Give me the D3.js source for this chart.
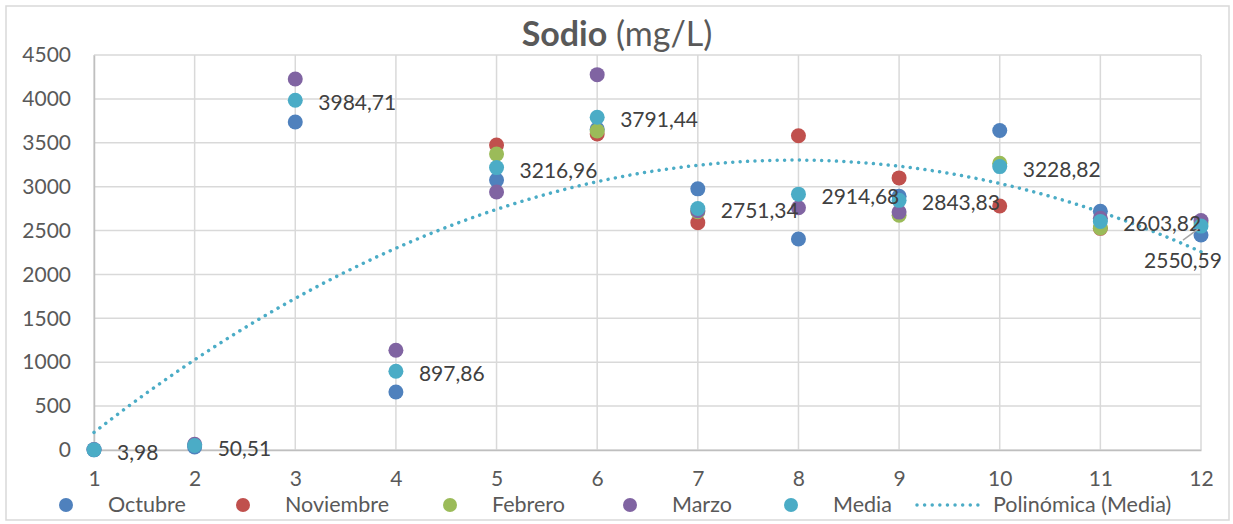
<!DOCTYPE html>
<html>
<head>
<script src="https://d3js.org/d3.v7.min.js"></script>
<style>
  body { margin: 0; background: #fff; }
  text { font-family: Lato, "Open Sans", sans-serif; fill: #595959; }
</style>
</head>
<body>
<div id="chart"></div>
<script>
// months on the x axis
const months = [1, 2, 3, 4, 5, 6, 7, 8, 9, 10, 11, 12];

// sodium values per campaign (mg/L), null = no sample
const octubre   = [2, 35, 3736, 660, 3075, 3655, 2975, 2404, 2890, 3640, 2720, 2450];
const noviembre = [null, null, null, null, 3474, 3600, 2590, 3580, 3100, 2780, 2525, null];
const febrero   = [null, null, null, null, 3371, 3635, 2715, null, 2675, 3266, 2530, 2587];
const marzo     = [6, 66, 4226, 1136, 2939, 4276, 2725, 2760, 2710, null, 2640, 2615];
const media     = [3.98, 50.51, 3984.71, 897.86, 3216.96, 3791.44, 2751.34, 2914.68, 2843.83, 3228.82, 2603.82, 2550.59];

const yTicks = [0, 500, 1000, 1500, 2000, 2500, 3000, 3500, 4000, 4500];

const series = [
  { name: "Octubre", values: octubre, color: "#4f81bd" },
  { name: "Noviembre", values: noviembre, color: "#c0504d" },
  { name: "Febrero", values: febrero, color: "#9bbb59" },
  { name: "Marzo", values: marzo, color: "#8064a2" },
  { name: "Media", values: media, color: "#4bacc6" }
];

const width = 1233, height = 524;
const margin = { top: 55, right: 32, bottom: 74, left: 94 };

const svg = d3.select("#chart").append("svg")
  .attr("width", width)
  .attr("height", height);

// chart border
svg.append("rect")
  .attr("x", 6).attr("y", 6)
  .attr("width", 1223).attr("height", 514)
  .attr("fill", "none")
  .attr("stroke", "#d9d9d9")
  .attr("stroke-width", 1.5);

const x = d3.scaleLinear().domain([1, 12]).range([margin.left, width - margin.right]);
const y = d3.scaleLinear().domain([0, 4500]).range([height - margin.bottom, margin.top]);

// grid
svg.append("g").selectAll("line").data(yTicks).join("line")
  .attr("x1", x(1)).attr("x2", x(12))
  .attr("y1", d => y(d)).attr("y2", d => y(d))
  .attr("stroke", "#d9d9d9").attr("stroke-width", 1.5);
svg.append("g").selectAll("line").data(months).join("line")
  .attr("x1", d => x(d)).attr("x2", d => x(d))
  .attr("y1", y(0)).attr("y2", y(4500))
  .attr("stroke", "#d9d9d9").attr("stroke-width", 1.5);

// axes
const yAxis = svg.append("g")
  .attr("transform", `translate(${x(1)},0)`)
  .call(d3.axisLeft(y).tickValues(yTicks).tickSize(0).tickPadding(23).tickFormat(d3.format("d")));
yAxis.select(".domain").attr("stroke", "#bfbfbf").attr("stroke-width", 1.5);
yAxis.selectAll("text").attr("font-size", 21).style("fill", "#595959");

const xAxis = svg.append("g")
  .attr("transform", `translate(0,${y(0)})`)
  .call(d3.axisBottom(x).tickValues(months).tickSize(0).tickPadding(21).tickFormat(d3.format("d")));
xAxis.select(".domain").attr("stroke", "#bfbfbf").attr("stroke-width", 1.5);
xAxis.selectAll("text").attr("font-size", 21).style("fill", "#595959");

// polynomial (order 2) trendline of Media, least squares
function polyFit(xs, ys) {
  let s = [0, 0, 0, 0, 0], t = [0, 0, 0];
  xs.forEach((xv, i) => {
    for (let k = 0; k < 5; k++) s[k] += Math.pow(xv, k);
    for (let k = 0; k < 3; k++) t[k] += ys[i] * Math.pow(xv, k);
  });
  const A = [[s[0], s[1], s[2], t[0]], [s[1], s[2], s[3], t[1]], [s[2], s[3], s[4], t[2]]];
  for (let i = 0; i < 3; i++) {
    for (let j = i + 1; j < 3; j++) {
      const f = A[j][i] / A[i][i];
      for (let k = i; k < 4; k++) A[j][k] -= f * A[i][k];
    }
  }
  const c = [0, 0, 0];
  for (let i = 2; i >= 0; i--) {
    let v = A[i][3];
    for (let k = i + 1; k < 3; k++) v -= A[i][k] * c[k];
    c[i] = v / A[i][i];
  }
  return c;
}
const coef = polyFit(months, media);
const trend = d3.range(1, 12.0001, 0.05).map(t => [t, coef[0] + coef[1] * t + coef[2] * t * t]);

svg.append("path")
  .datum(trend)
  .attr("fill", "none")
  .attr("stroke", "#4bacc6")
  .attr("stroke-width", 3.5)
  .attr("stroke-linecap", "round")
  .attr("stroke-dasharray", "0.01 7.4")
  .attr("d", d3.line().x(d => x(d[0])).y(d => y(d[1])));

// markers
series.forEach(s => {
  svg.append("g").selectAll("circle")
    .data(months.map((m, i) => [m, s.values[i]]).filter(d => d[1] != null))
    .join("circle")
    .attr("cx", d => x(d[0]))
    .attr("cy", d => y(d[1]))
    .attr("r", 7.5)
    .attr("fill", s.color);
});

// data labels for Media
const fmt = d3.formatLocale({ decimal: ",", thousands: "", grouping: [3], currency: ["", ""] }).format(".2f");
months.forEach((m, i) => {
  if (i === 11) {
    svg.append("line")
      .attr("x1", x(m) - 18).attr("y1", y(media[i]) + 14)
      .attr("x2", x(m) - 3).attr("y2", y(media[i]) + 3)
      .attr("stroke", "#a6a6a6").attr("stroke-width", 1.5);
    svg.append("text")
      .attr("x", x(m) - 18).attr("y", y(media[i]) + 42)
      .attr("text-anchor", "middle")
      .attr("font-size", 21)
      .style("fill", "#404040")
      .text(fmt(media[i]));
  } else {
    svg.append("text")
      .attr("x", x(m) + 23).attr("y", y(media[i]) + 10)
      .attr("font-size", 21)
      .style("fill", "#404040")
      .text(fmt(media[i]));
  }
});

// title
const title = svg.append("text")
  .attr("x", 617).attr("y", 46)
  .attr("text-anchor", "middle")
  .attr("font-size", 34);
title.append("tspan").attr("font-weight", "bold").text("Sodio");
title.append("tspan").text(" (mg/L)");

// legend
const legendX = [66, 243, 450, 630, 791];
series.forEach((s, i) => {
  svg.append("circle")
    .attr("cx", legendX[i]).attr("cy", 505).attr("r", 7)
    .attr("fill", s.color);
  svg.append("text")
    .attr("x", legendX[i] + 42).attr("y", 512)
    .attr("font-size", 21.5)
    .text(s.name);
});
svg.append("line")
  .attr("x1", 917).attr("x2", 980)
  .attr("y1", 505).attr("y2", 505)
  .attr("stroke", "#4bacc6")
  .attr("stroke-width", 3.5)
  .attr("stroke-linecap", "round")
  .attr("stroke-dasharray", "0.01 7.6");
svg.append("text")
  .attr("x", 993).attr("y", 512)
  .attr("font-size", 21.5)
  .text("Polinómica (Media)");
</script>
</body>
</html>
